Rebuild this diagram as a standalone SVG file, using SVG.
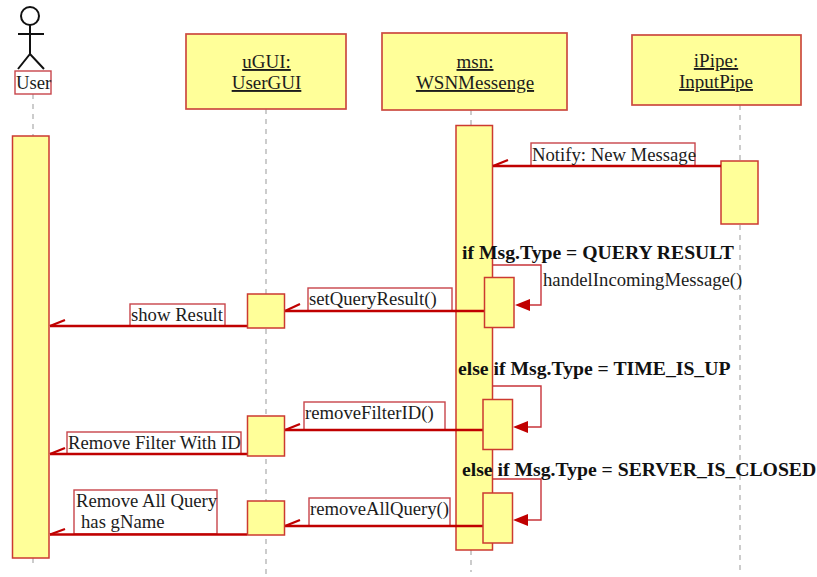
<svg xmlns="http://www.w3.org/2000/svg" width="817" height="577" viewBox="0 0 817 577">
<defs>
<style>
text{font-family:"Liberation Serif","Times New Roman",serif;fill:#1c1c1c;font-size:18.7px}
.b{font-weight:bold;fill:#111;font-size:19.7px}
.u{text-decoration:underline;text-anchor:middle;font-size:19px}
.box{fill:#ffff99;stroke:#cc4a40;stroke-width:1.7}
.act{fill:#ffff99;stroke:#cc3a30;stroke-width:1.5}
.lbl{fill:#fff;stroke:#c8454a;stroke-width:1.4}
.life{fill:none;stroke:#999;stroke-width:1;stroke-dasharray:5 5}
.msg{fill:none;stroke:#c00000;stroke-width:2.4}
.half{fill:none;stroke:#c00000;stroke-width:2.2}
.self{fill:none;stroke:#c8343a;stroke-width:1.4}
.head{fill:#c00000;stroke:none}
.fig{fill:none;stroke:#111;stroke-width:2}
</style>
</defs>
<rect width="817" height="577" fill="#fff"/>
<g id="lifelines">
<line class="life" x1="33" y1="94" x2="33" y2="136"/><line class="life" x1="33" y1="558" x2="33" y2="568"/>
<line class="life" x1="266" y1="109" x2="266" y2="575"/>
<line class="life" x1="471" y1="110" x2="471" y2="125"/><line class="life" x1="471" y1="550" x2="471" y2="572"/>
<line class="life" x1="740" y1="105" x2="740" y2="575"/>
</g>
<g id="actor-user">
<circle class="fig" cx="30" cy="16" r="9"/>
<path class="fig" d="M30 25V54M18 34H44M18 69L30 54L44 69"/>
<rect class="lbl" x="15" y="71" width="36" height="23"/>
<text x="16" y="89">User</text>
</g>
<g id="node-ugui">
<rect class="box" x="186" y="34" width="160" height="75"/>
<text class="u" x="266.500" y="68">uGUI:</text>
<text class="u" x="266.500" y="89">UserGUI</text>
</g>
<g id="node-msn">
<rect class="box" x="382" y="33" width="185" height="77"/>
<text class="u" x="475" y="68">msn:</text>
<text class="u" x="475" y="89">WSNMessenge</text>
</g>
<g id="node-ipipe">
<rect class="box" x="632" y="35" width="169" height="70"/>
<text class="u" x="716" y="67">iPipe:</text>
<text class="u" x="716" y="88">InputPipe</text>
</g>
<g id="activation-user"><rect class="act" x="12.500" y="136" width="36.500" height="422"/></g>
<g id="activation-msn"><rect class="act" x="456" y="125.500" width="36.500" height="424.500"/></g>
<g id="activation-ipipe"><rect class="act" x="721" y="161" width="37" height="63"/></g>
<g id="labels">
<rect class="lbl" x="531" y="143" width="164" height="23"/>
<rect class="lbl" x="308" y="288" width="144" height="23"/>
<rect class="lbl" x="130" y="304" width="95" height="22"/>
<rect class="lbl" x="304" y="402" width="141" height="28"/>
<rect class="lbl" x="67" y="432" width="174" height="22"/>
<rect class="lbl" x="309" y="498" width="141" height="28"/>
<rect class="lbl" x="74" y="490" width="143" height="44"/>
</g>
<g id="connectors">
<path class="msg" d="M721 166H493"/><path class="half" d="M493 166L508 160"/>
<path class="msg" d="M484 311H285"/><path class="half" d="M285 311L300 304"/>
<path class="msg" d="M247 326H50"/><path class="half" d="M50 326L65 320"/>
<path class="msg" d="M483 430H285"/><path class="half" d="M285 430L300 424"/>
<path class="msg" d="M247 454H50"/><path class="half" d="M50 454L65 448"/>
<path class="msg" d="M483 526H285"/><path class="half" d="M285 526L300 520"/>
<path class="msg" d="M247 534.500H50"/><path class="half" d="M50 534.500L65 529"/>
<path class="self" d="M492 265H541V305H528"/><path class="head" d="M515 305L530 299V311Z"/>
<path class="self" d="M492 386H541V427H526"/><path class="head" d="M513 427L528 421V433Z"/>
<path class="self" d="M492 479H541V520H526"/><path class="head" d="M513 520L528 514V526Z"/>
</g>
<g id="activation-msn-1"><rect class="act" x="484.500" y="277.500" width="29.500" height="50"/></g>
<g id="activation-msn-2"><rect class="act" x="483" y="399.500" width="29.500" height="50"/></g>
<g id="activation-msn-3"><rect class="act" x="483" y="493" width="29.500" height="50"/></g>
<g id="activation-ugui-1"><rect class="act" x="247.500" y="294" width="37" height="34"/></g>
<g id="activation-ugui-2"><rect class="act" x="247.500" y="416" width="37" height="40"/></g>
<g id="activation-ugui-3"><rect class="act" x="247.500" y="501" width="37" height="34"/></g>
<g id="texts">
<text x="532" y="161">Notify: New Message</text>
<text x="309" y="305">setQueryResult()</text>
<text x="131" y="321">show Result</text>
<text x="543" y="286">handelIncomingMessage()</text>
<text x="305" y="419">removeFilterID()</text>
<text x="68" y="449">Remove Filter With ID</text>
<text x="310" y="515">removeAllQuery()</text>
<text x="76" y="507">Remove All Query</text>
<text x="81" y="528">has gName</text>
<text class="b" x="462" y="259">if Msg.Type = QUERY RESULT</text>
<text class="b" x="458" y="375">else if Msg.Type = TIME_IS_UP</text>
<text class="b" x="462" y="476">else if Msg.Type = SERVER_IS_CLOSED</text>
</g>
</svg>
